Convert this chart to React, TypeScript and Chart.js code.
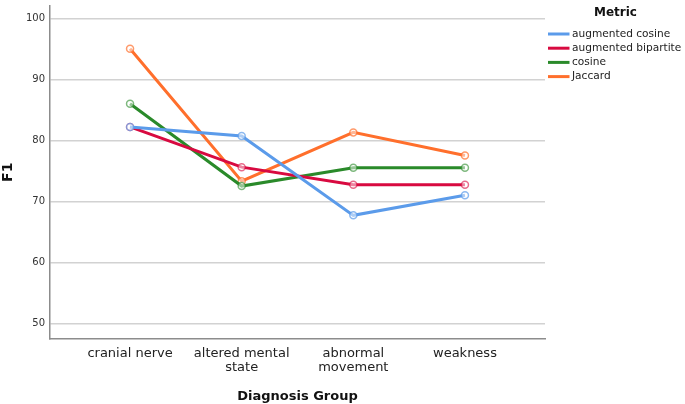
import React, { useEffect, useRef } from "react";
import { Chart, registerables } from "chart.js";

Chart.register(...registerables);

const categories: (string | string[])[] = [
  "cranial nerve",
  ["altered mental", "state"],
  ["abnormal", "movement"],
  "weakness",
];
const seriesNames = ["augmented cosine", "augmented bipartite", "cosine", "Jaccard"];
const augmentedCosine = [82.2, 80.7, 67.7, 71.0];
const augmentedBipartite = [82.2, 75.6, 72.7, 72.7];
const cosine = [86.0, 72.5, 75.5, 75.5];
const jaccard = [95.0, 73.3, 81.3, 77.5];
const seriesValues = [augmentedCosine, augmentedBipartite, cosine, jaccard];
const seriesColors = ["#5b9bea", "#d80a40", "#2a8a2a", "#ff6f2c"];
const pointColors = [
  "rgba(91,155,234,0.7)",
  "rgba(216,10,64,0.6)",
  "rgba(42,138,42,0.6)",
  "rgba(255,111,44,0.7)",
];
const yTicks = [50, 60, 70, 80, 90, 100];
const legendTitle = "Metric";
const xTitle = "Diagnosis Group";
const yTitle = "F1";

const FONT = "'DejaVu Sans', sans-serif";

const legendPlugin = {
  id: "customLegend",
  afterDraw(chart: any) {
    const ctx = chart.ctx;
    ctx.save();
    ctx.font = `bold 12px ${FONT}`;
    ctx.fillStyle = "#111";
    ctx.textAlign = "center";
    ctx.textBaseline = "middle";
    ctx.fillText(legendTitle, 615.5, 13);
    ctx.font = `10.6px ${FONT}`;
    ctx.textAlign = "left";
    chart.data.datasets.forEach((ds: any, i: number) => {
      const y = 34 + i * 14.2;
      ctx.strokeStyle = ds.borderColor;
      ctx.lineWidth = 3;
      ctx.beginPath();
      ctx.moveTo(548, y);
      ctx.lineTo(569.5, y);
      ctx.stroke();
      ctx.fillStyle = "#222";
      ctx.fillText(ds.label, 572, y);
    });
    ctx.restore();
  },
};

export default function App() {
  const ref = useRef<HTMLCanvasElement>(null);
  useEffect(() => {
    if (!ref.current) return;
    const chart = new Chart(ref.current, {
      type: "line",
      data: {
        datasets: seriesNames.map((name, i) => ({
          label: name,
          data: seriesValues[i].map((v, j) => ({ x: j, y: v })),
          borderColor: seriesColors[i],
          backgroundColor: seriesColors[i],
          borderWidth: 3,
          pointRadius: 3.5,
          pointBorderWidth: 1.5,
          pointBorderColor: pointColors[i],
          pointBackgroundColor: "rgba(255,255,255,0.5)",
          tension: 0,
        })),
      },
      options: {
        animation: false,
        responsive: false,
        maintainAspectRatio: false,
        layout: { padding: { top: 0, right: 140, left: 0, bottom: 0 } },
        plugins: {
          legend: { display: false },
          tooltip: { enabled: false },
        },
        scales: {
          x: {
            type: "linear",
            min: -0.717,
            max: 3.717,
            afterBuildTicks: (scale: any) => {
              scale.ticks = categories.map((_, i) => ({ value: i }));
            },
            afterFit: (scale: any) => {
              scale.height = 65;
              scale.paddingLeft = 0;
              scale.paddingRight = 0;
            },
            grid: { display: false, drawTicks: false },
            border: { display: true, color: "#8c8c8c", width: 1.5 },
            ticks: {
              autoSkip: false,
              maxRotation: 0,
              padding: 7,
              color: "#222",
              font: { family: FONT, size: 13, lineHeight: 1.12 },
              callback: (v: any) => categories[v as number],
            },
            title: {
              display: true,
              text: xTitle,
              color: "#111",
              font: { family: FONT, size: 13, weight: "bold" },
              padding: { top: 0, bottom: 0 },
            },
          },
          y: {
            type: "linear",
            min: 47.43,
            max: 102.1,
            afterBuildTicks: (scale: any) => {
              scale.ticks = yTicks.map((v) => ({ value: v }));
            },
            afterFit: (scale: any) => {
              scale.width = 50;
              scale.paddingTop = 0;
              scale.paddingBottom = 0;
            },
            grid: { color: "#d2d2d2", lineWidth: 1.5, drawTicks: false },
            border: { display: true, color: "#8c8c8c", width: 1.5 },
            ticks: {
              padding: 5,
              color: "#333",
              font: { family: FONT, size: 10 },
            },
            title: {
              display: true,
              text: yTitle,
              color: "#111",
              font: { family: FONT, size: 14, weight: "bold" },
              padding: { top: 0, bottom: 0 },
            },
          },
        },
      },
      plugins: [legendPlugin],
    });
    return () => chart.destroy();
  }, []);
  return (
    <div style={{ position: "absolute", left: 0, top: 0, width: 685, height: 404, background: "#fff" }}>
      <canvas ref={ref} width={685} height={404} style={{ width: 685, height: 404 }} />
    </div>
  );
}
